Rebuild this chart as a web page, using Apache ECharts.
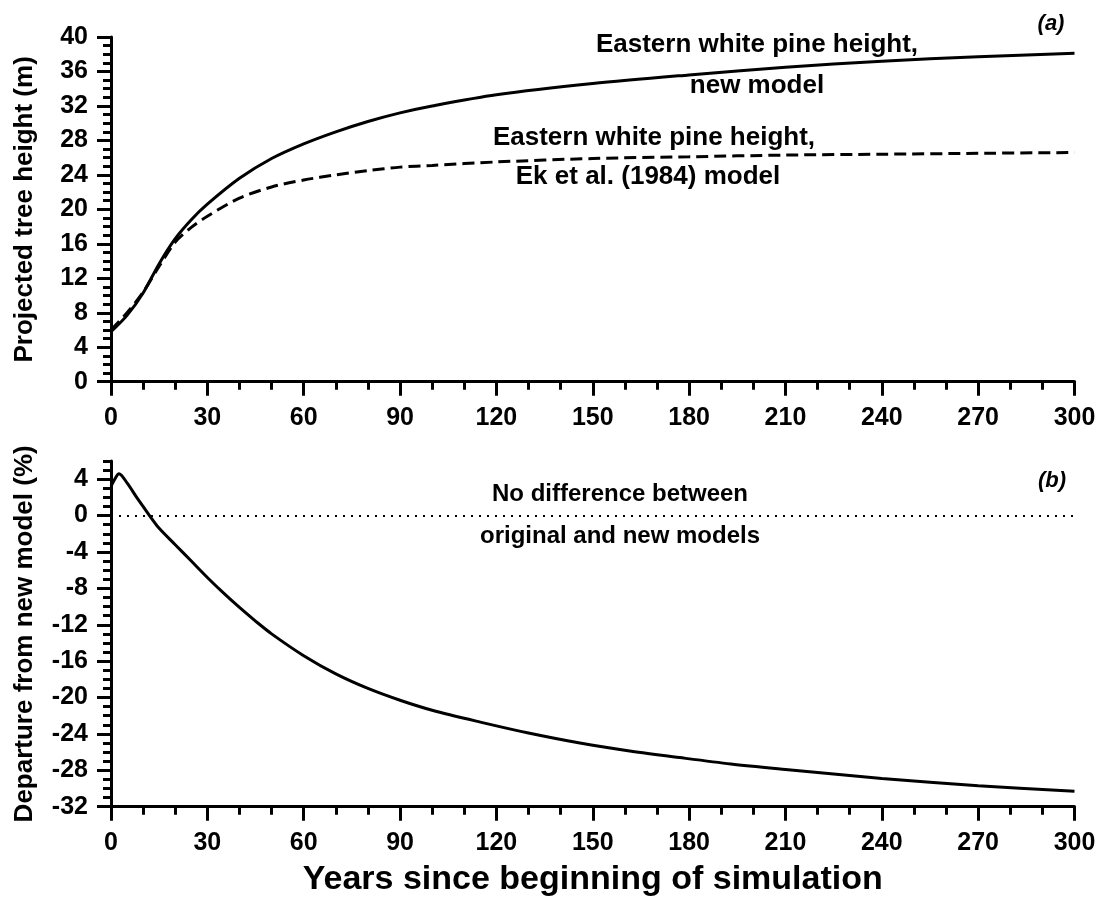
<!DOCTYPE html>
<html>
<head>
<meta charset="utf-8">
<script src="https://cdn.jsdelivr.net/npm/echarts@6/dist/echarts.min.js"></script>
<style>
html,body{margin:0;padding:0;background:#fff;}
#chart{width:1102px;height:900px;}
</style>
</head>
<body>
<div id="chart"></div>
<script>
// ---- Data ----
const yearsTop = [0, 5, 10, 15, 20, 25, 30, 40, 50, 60, 70, 80, 90, 100, 120, 150, 180, 210, 240, 270, 300];
const newModelHeight = [5.8, 7.7, 10.3, 13.7, 16.6, 18.8, 20.6, 23.6, 25.9, 27.6, 29.0, 30.2, 31.2, 32.0, 33.3, 34.6, 35.6, 36.5, 37.2, 37.7, 38.1];
const ekModelHeight  = [6.0, 8.0, 10.4, 13.4, 16.2, 17.9, 19.2, 21.3, 22.6, 23.4, 24.0, 24.5, 24.9, 25.1, 25.5, 25.9, 26.1, 26.3, 26.4, 26.5, 26.6];

const yearsDiff = [0, 1, 2.5, 5, 8, 10, 12, 15, 20, 25, 30, 35, 40, 45, 50, 60, 70, 80, 90, 100, 115, 130, 146, 162, 177, 193, 210, 240, 270, 300];
const departure = [3.2, 3.9, 4.6, 3.6, 2.0, 1.0, 0.0, -1.4, -3.2, -5.0, -6.8, -8.5, -10.1, -11.6, -13.0, -15.4, -17.4, -19.0, -20.3, -21.4, -22.7, -23.9, -25.0, -25.9, -26.6, -27.3, -27.9, -28.9, -29.7, -30.3];

const xTicks = [0, 30, 60, 90, 120, 150, 180, 210, 240, 270, 300];
const yTicksTop = [0, 4, 8, 12, 16, 20, 24, 28, 32, 36, 40];
const yTicksBottom = [-32, -28, -24, -20, -16, -12, -8, -4, 0, 4];

const FONT = '"Liberation Sans", Arial, Helvetica, sans-serif';
const BLACK = '#000';

const labelStyle = { color: BLACK, fontSize: 25, fontWeight: 'bold', fontFamily: FONT };
const lineStyleAxis = { color: BLACK, width: 3 };

function xAxisFor(grid, withName) {
  const ax = {
    type: 'value', gridIndex: grid, min: 0, max: 300, interval: 30,
    axisLine: { show: true, onZero: false, lineStyle: lineStyleAxis },
    axisTick: { show: true, length: 14, lineStyle: { color: BLACK, width: 3 } },
    minorTick: { show: true, splitNumber: 3, length: 8, lineStyle: { color: BLACK, width: 3 } },
    axisLabel: Object.assign({ margin: 24, customValues: xTicks }, labelStyle),
    splitLine: { show: false }, minorSplitLine: { show: false }
  };
  if (withName) {
    ax.name = 'Years since beginning of simulation';
    ax.nameLocation = 'middle';
    ax.nameGap = 56;
    ax.nameTextStyle = { color: BLACK, fontSize: 34, fontWeight: 'bold', fontFamily: FONT };
  }
  return ax;
}

const option = {
  backgroundColor: '#fff',
  animation: false,
  grid: [
    { left: 111, right: 27.5, top: 37, height: 344.7, containLabel: false },
    { left: 111, right: 27.5, top: 461, height: 345.7, containLabel: false }
  ],
  xAxis: [ xAxisFor(0, false), xAxisFor(1, true) ],
  yAxis: [
    {
      type: 'value', gridIndex: 0, min: 0, max: 40, interval: 4, position: 'left',
      axisLine: { show: true, onZero: false, lineStyle: lineStyleAxis },
      axisTick: { show: true, length: 14, lineStyle: { color: BLACK, width: 3 } },
      minorTick: { show: true, splitNumber: 4, length: 8, lineStyle: { color: BLACK, width: 3 } },
      axisLabel: Object.assign({ margin: 23, customValues: yTicksTop }, labelStyle),
      splitLine: { show: false }, minorSplitLine: { show: false },
      name: 'Projected tree height (m)', nameLocation: 'middle', nameGap: 73,
      nameTextStyle: { color: BLACK, fontSize: 26, fontWeight: 'bold', fontFamily: FONT }
    },
    {
      type: 'value', gridIndex: 1, min: -32, max: 6, interval: 1, position: 'left',
      axisLine: { show: true, onZero: false, lineStyle: lineStyleAxis },
      axisTick: { show: true, length: 8, lineStyle: { color: BLACK, width: 3 } },
      axisLabel: Object.assign({ margin: 23, customValues: yTicksBottom }, labelStyle),
      splitLine: { show: false },
      name: 'Departure from new model (%)', nameLocation: 'middle', nameGap: 73,
      nameTextStyle: { color: BLACK, fontSize: 26, fontWeight: 'bold', fontFamily: FONT }
    },
    {
      type: 'value', gridIndex: 1, min: -32, max: 6, position: 'left', offset: 0,
      axisLine: { show: false, onZero: false },
      axisTick: { show: true, length: 14, customValues: yTicksBottom, lineStyle: { color: BLACK, width: 3 } },
      axisLabel: { show: false },
      splitLine: { show: false }
    }
  ],
  series: [
    {
      name: 'Eastern white pine height, new model', type: 'line',
      xAxisIndex: 0, yAxisIndex: 0, smooth: 0.3, symbol: 'none',
      lineStyle: { color: BLACK, width: 3 },
      data: yearsTop.map((x, i) => [x, newModelHeight[i]])
    },
    {
      name: 'Eastern white pine height, Ek et al. (1984) model', type: 'line',
      xAxisIndex: 0, yAxisIndex: 0, smooth: 0.3, symbol: 'none',
      lineStyle: { color: BLACK, width: 3, type: [12, 6] },
      data: yearsTop.map((x, i) => [x, ekModelHeight[i]])
    },
    {
      name: 'Departure', type: 'line',
      xAxisIndex: 1, yAxisIndex: 1, smooth: 0.3, symbol: 'none',
      lineStyle: { color: BLACK, width: 3 },
      data: yearsDiff.map((x, i) => [x, departure[i]]),
      markLine: {
        silent: true, symbol: 'none', label: { show: false },
        lineStyle: { color: BLACK, width: 2, type: [2, 6] },
        data: [ { yAxis: 0 } ]
      }
    }
  ],
  graphic: [
    { type: 'text', x: 757, y: 45, style: { text: 'Eastern white pine height,', fill: BLACK, font: 'bold 26px ' + FONT, align: 'center', verticalAlign: 'middle' } },
    { type: 'text', x: 757, y: 86, style: { text: 'new model', fill: BLACK, font: 'bold 26px ' + FONT, align: 'center', verticalAlign: 'middle' } },
    { type: 'text', x: 654, y: 138, style: { text: 'Eastern white pine height,', fill: BLACK, font: 'bold 26px ' + FONT, align: 'center', verticalAlign: 'middle' } },
    { type: 'text', x: 648, y: 177, style: { text: 'Ek et al. (1984) model', fill: BLACK, font: 'bold 26px ' + FONT, align: 'center', verticalAlign: 'middle' } },
    { type: 'text', x: 620, y: 494, style: { text: 'No difference between', fill: BLACK, font: 'bold 24px ' + FONT, align: 'center', verticalAlign: 'middle' } },
    { type: 'text', x: 620, y: 536, style: { text: 'original and new models', fill: BLACK, font: 'bold 24px ' + FONT, align: 'center', verticalAlign: 'middle' } },
    { type: 'text', x: 1051, y: 24, style: { text: '(a)', fill: BLACK, font: 'italic bold 22px ' + FONT, align: 'center', verticalAlign: 'middle' } },
    { type: 'text', x: 1052, y: 481, style: { text: '(b)', fill: BLACK, font: 'italic bold 22px ' + FONT, align: 'center', verticalAlign: 'middle' } }
  ]
};

const chart = echarts.init(document.getElementById('chart'), null, { renderer: 'canvas' });
chart.setOption(option);
</script>
</body>
</html>
